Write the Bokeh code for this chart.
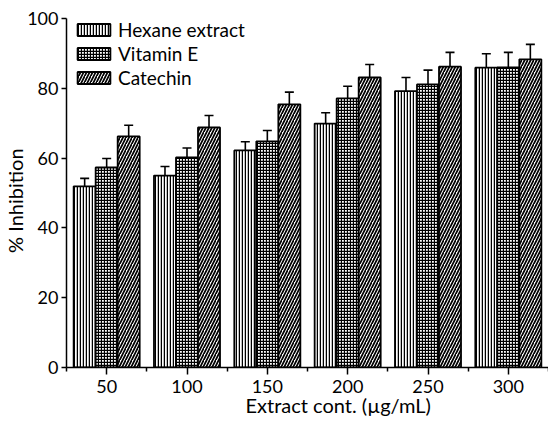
from bokeh.plotting import figure
from bokeh.models import ColumnDataSource, FixedTicker, Whisker, TeeHead, Legend, LegendItem
from bokeh.transform import dodge
from bokeh.embed import file_html
from bokeh.resources import INLINE

concentrations = ["50", "100", "150", "200", "250", "300"]
series_names = ["Hexane extract", "Vitamin E", "Catechin"]
hexane = [51.9, 55.0, 62.2, 69.9, 79.2, 85.9]
hexane_err = [2.3, 2.6, 2.5, 3.1, 3.9, 4.0]
vitamin_e = [57.3, 60.2, 64.8, 77.1, 81.1, 86.0]
vitamin_e_err = [2.6, 2.7, 3.1, 3.5, 4.1, 4.3]
catechin = [66.2, 68.8, 75.4, 83.1, 86.2, 88.3]
catechin_err = [3.2, 3.4, 3.5, 3.7, 4.1, 4.3]
y_ticks = [0, 20, 40, 60, 80, 100]
x_title = "Extract cont. (µg/mL)"
y_title = "% Inhibition"

FONT = "Lato"
FS = "18px"
LFS = "20px"
NB = "\u00a0"

xs = list(range(1, len(concentrations) + 1))
src = ColumnDataSource(dict(
    x=xs,
    hexane=hexane, hexane_up=[v + e for v, e in zip(hexane, hexane_err)],
    vit=vitamin_e, vit_up=[v + e for v, e in zip(vitamin_e, vitamin_e_err)],
    cat=catechin, cat_up=[v + e for v, e in zip(catechin, catechin_err)],
))

p = figure(width=548, height=422, x_range=(0.5, 6.5), y_range=(0, 100),
           output_backend="svg", toolbar_location=None,
           min_border_left=61, min_border_right=0, min_border_top=18, min_border_bottom=55)
p.outline_line_color = None
p.xgrid.grid_line_color = None
p.ygrid.grid_line_color = None

W = 0.274
specs = [
    ("hexane", "hexane_up", -W, "vertical_line", 3, 1.5),
    ("vit", "vit_up", 0.0, "cross", 3, 1.3),
    ("cat", "cat_up", W, "right_diagonal_line", 6, 1.7),
]
renderers = []
for col, up, off, pat, sc, hw in specs:
    r = p.vbar(x=dodge("x", off), top=col, width=W, bottom=0, source=src,
               fill_color="white", line_color="black", line_width=1.8,
               hatch_pattern=pat, hatch_color="black", hatch_scale=sc, hatch_weight=hw)
    renderers.append(r)
    wk = Whisker(source=src, base=dodge("x", off), lower=col, upper=up, dimension="height",
                 line_color="black", line_width=1.6,
                 upper_head=TeeHead(size=9, line_color="black", line_width=1.6), lower_head=None)
    p.add_layout(wk)

legend = Legend(items=[LegendItem(label=n, renderers=[r]) for n, r in zip(series_names, renderers)],
                location=(7, 278), glyph_width=41, glyph_height=15, label_height=14,
                spacing=1, padding=0, margin=0, border_line_color=None,
                background_fill_alpha=0, label_standoff=4,
                label_text_font=FONT, label_text_font_size="19px", label_text_color="black")
p.add_layout(legend)

for ax in (p.xaxis[0], p.yaxis[0]):
    ax.axis_line_color = "black"
    ax.axis_line_width = 1.5
    ax.major_tick_line_color = "black"
    ax.major_tick_line_width = 1.5
    ax.minor_tick_line_color = "black"
    ax.minor_tick_line_width = 1.5
    ax.major_tick_in = 0
    ax.minor_tick_in = 0
    ax.major_label_text_font = FONT
    ax.major_label_text_font_size = FS
    ax.major_label_text_color = "black"
    ax.axis_label_text_font = FONT
    ax.axis_label_text_font_size = LFS
    ax.axis_label_text_font_style = "normal"
    ax.axis_label_text_color = "black"

p.xaxis.ticker = FixedTicker(ticks=xs, minor_ticks=[i + 0.5 for i in range(len(xs) + 1)])
p.xaxis.major_label_overrides = {x: c for x, c in zip(xs, concentrations)}
p.xaxis.major_tick_out = 7
p.xaxis.minor_tick_out = 4
p.xaxis.major_label_standoff = 5
p.xaxis.axis_label = NB * 12 + x_title
p.xaxis.axis_label_standoff = -3

p.yaxis.ticker = FixedTicker(ticks=y_ticks)
p.yaxis.major_tick_out = 5
p.yaxis.minor_tick_line_color = None
p.yaxis.major_label_standoff = 3
p.yaxis.axis_label = y_title + NB * 3
p.yaxis.axis_label_standoff = -3

open("out.html", "w").write(file_html(p, INLINE))
